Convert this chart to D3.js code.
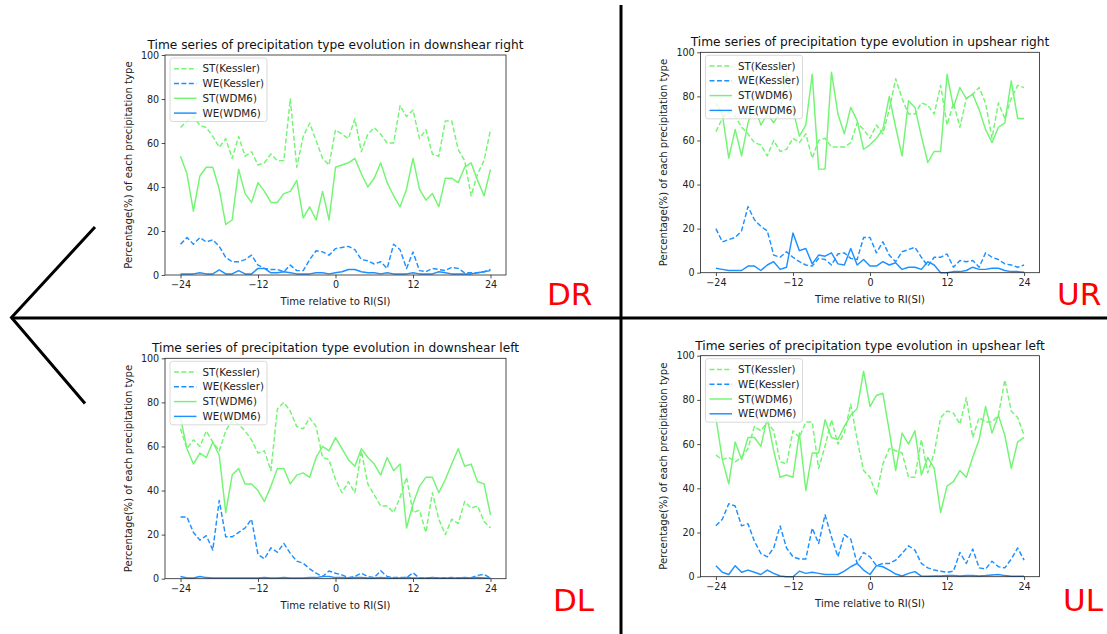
<!DOCTYPE html>
<html><head><meta charset="utf-8">
<script src="https://cdn.jsdelivr.net/npm/d3@7"></script>
<style>
html,body{margin:0;padding:0;background:#fff;}
svg{display:block;}
text{font-family:"DejaVu Sans",sans-serif;}
</style></head>
<body>
<svg id="c" width="1107" height="634"></svg>
<script>
// ---------- data ----------
const hours = [-24,-23,-22,-21,-20,-19,-18,-17,-16,-15,-14,-13,-12,-11,-10,-9,-8,-7,-6,-5,-4,-3,-2,-1,0,
  1,2,3,4,5,6,7,8,9,10,11,12,13,14,15,16,17,18,19,20,21,22,23,24];
const xTicks = [-24,-12,0,12,24];
const yTicks = [0,20,40,60,80,100];
const seriesNames = ["ST(Kessler)","WE(Kessler)","ST(WDM6)","WE(WDM6)"];
const panelTitles = [
  "Time series of precipitation type evolution in downshear right",
  "Time series of precipitation type evolution in upshear right",
  "Time series of precipitation type evolution in downshear left",
  "Time series of precipitation type evolution in upshear left"];
const regionLabels = ["DR","UR","DL","UL"];
const xLabel = "Time relative to RI(SI)";
const yLabel = "Percentage(%) of each precipitation type";

// downshear right
const drSTKessler = [67,70,72,68,67,63,58,62,53,63,54,56,50,51,55,52,52,80,49,63,69,61,53,50,66,
  64,62,71,56,64,67,64,60,60,77,72,75,62,66,55,54,70,70,57,52,36,46,52,66];
const drWEKessler = [14,17,14,17,15,16,13,8,6,6,7,9,4.5,3,2.5,2.5,1.5,4.5,2,2,7,11,10.5,9,12,
  12.5,13,11.5,7,6.5,5,6,3,14,11.5,3,10.5,2,1.5,3,2.5,2,3.5,3,1,1,1,1.5,2.5];
const drSTWDM6 = [54,46,29,45,49,49,39,23,25,48,37,33,42,38,33,33,37,38,43,26,31,25,38,25,49,
  50,51,53,46,40,44,51,42,36,31,39,53,39,34,37,31,44,44,42,49,51,43,36,48];
const drWEWDM6 = [0.5,0.5,0.5,1,0.5,0.5,2.3,0.5,0.5,2,0.5,0.5,3,3,1,1,1.5,1,0.5,0.5,0.5,1,1,0.5,1,
  1.5,2.5,2.5,1.5,1,1,0.5,1,0.5,0.5,0.5,1,0.5,0.5,0.5,1.5,1,0.5,0.5,0.5,0.5,1,1.5,2];

// upshear right
const urSTKessler = [64,70,73,71,66,63,59,58,53,60,55,56,61,59,63,52,60,61,57,57,57,59,68,65,61,
  67,63,74,88,79,72,72,77,76,72,85,67,77,66,79,81,84,77,61,77,70,79,85,84];
const urWEKessler = [20,14,15,16,19,30,24,21,19,8,7,9.5,7,5,3.5,3,6.5,6,3.5,8.5,9,6.5,6,16,16,
  9,14,8,5,9.5,10.5,11.5,7,3,7,7,8.5,2.5,5.5,5,5.5,2.5,9,7,6,4,3.5,2.5,3.5];
const urSTWDM6 = [77,72,52,65,53,68,76,67,72,68,73,91,74,62,67,90,47,47,91,72,63,75,69,56,58,
  61,65,80,66,53,78,75,62,50,55,55,90,75,84,79,81,74,65,59,66,68,87,70,70];
const urWEWDM6 = [2,1.5,1,1,1,3,3,1,3.5,5,1.5,2.5,18,10,11,4,8,7.5,9,4,3.5,11,3.5,6,3,
  3,5,3.5,4.5,1.5,2.5,2.5,1.5,5,3.5,0,0,0.5,0.5,1,2.5,1.5,1.5,2,2,1,0.5,0.5,0.2];

// downshear left
const dlSTKessler = [68,59,63,60,67,62,58,67,72,70,67,63,57,58,49,77,80,76,69,68,73,69,55,54,45,
  39,44,39,58,43,38,33,33,30,37,46,30,31,21,39,27,20,27,25,35,32,33,26,23];
const dlWEKessler = [28,28,21,17.5,19.5,13,35.5,19,19,21,23,27,11,9,14,12,16,11.5,8,7,4.5,2.5,1,3.5,2.5,
  1.7,0.5,1,2.5,1,0.5,3.6,1,0.5,0.5,0.5,2.7,0.2,0.2,0.3,0.3,0.3,0.5,0.3,0.3,0.5,1.5,2,0.3];
const dlSTWDM6 = [73,59,52,57,55,62,56,30,47,50,43,43,40,35,42,50,50,43,47,48,46,55,60,58,64,
  59,54,51,59,55,52,47,55,49,52,23,34,42,46,46,39,45,52,59,51,52,44,43,29];
const dlWEWDM6 = [1,0.3,0.3,1,0.5,0.3,0.3,0.3,0.3,0.3,0.3,0.3,0.3,0.5,0.3,0.3,0.5,0.3,0.3,0.3,0.5,0.5,1,1,0.5,
  0.5,0.3,0.5,0.5,0.3,0.3,0.5,0.3,0.3,0.3,0.5,0.3,0.3,0.3,0.5,0.3,0.3,0.3,0.3,0.5,0.3,0.5,0.3,0.3];

// upshear left
const ulSTKessler = [55,53,54,52,54,58,68,66,70,66,52,51,66,63,70,70,49,59,71,60,65,78,62,48,45,
  37,51,58,57,56,45,45,62,47,56,72,75,74,69,81,63,72,70,70,73,89,75,72,64];
const ulWEKessler = [23,26,33,32,23,24,16,10.5,9,13,23,13,9,8,8,22,15,28,18,9,19,17,6,11,9,
  5,6,6,7.5,10.5,14,12,6,4,3,2.5,2,2.5,11,6,12.5,4,3.5,7,4.5,4,8,13,7.5];
const ulSTWDM6 = [72,53,42,61,53,63,63,59,72,57,45,46,45,65,39,56,56,71,63,62,68,73,76,93,77,
  82,83,66,48,65,60,66,46,54,49,29,41,43,48,45,54,62,77,65,73,64,49,61,63];
const ulWEWDM6 = [5,2,1,5,2,3,2,1,3,1.5,0.3,0,0,2.5,1.5,2,1.5,1,1,1,2.5,4.5,6,3,1,
  5,4.5,3,1.2,0.3,1.5,2.3,0.3,0.2,0.3,0.3,0.5,0.5,0.3,0.5,0.5,0.3,0.5,0.8,1,0.5,0.2,0.2,0.2];

// ---------- layout / style ----------
const panelData = [
  [drSTKessler, drWEKessler, drSTWDM6, drWEWDM6],
  [urSTKessler, urWEKessler, urSTWDM6, urWEWDM6],
  [dlSTKessler, dlWEKessler, dlSTWDM6, dlWEWDM6],
  [ulSTKessler, ulWEKessler, ulSTWDM6, ulWEWDM6]];
const boxes = [
  {x0:165, x1:506, y0:55, y1:275, tY:48.5, lab:[547,305]},
  {x0:700.5, x1:1039.5, y0:52.3, y1:272.7, tY:46, lab:[1057,305]},
  {x0:165, x1:506, y0:358.3, y1:578.7, tY:352, lab:[553,611]},
  {x0:700.5, x1:1039.5, y0:355.7, y1:576.7, tY:349.5, lab:[1063,611]}];
const GREEN = "#72f572", BLUE = "#1e90ff";
const styles = [
  {color:GREEN, dash:"5,2.4"},
  {color:BLUE, dash:"5,2.4"},
  {color:GREEN, dash:null},
  {color:BLUE, dash:null}];

const svg = d3.select("#c");

panelData.forEach((series, pi) => {
  const b = boxes[pi];
  const x = d3.scaleLinear().domain([-26.4, 26.4]).range([b.x0, b.x1]);
  const y = d3.scaleLinear().domain([0, 100]).range([b.y1, b.y0]);
  const g = svg.append("g");

  // lines
  const line = d3.line().x((d,i)=>x(hours[i])).y(d=>y(d));
  series.forEach((vals, si) => {
    g.append("path").datum(vals)
      .attr("d", line)
      .attr("fill","none")
      .attr("stroke", styles[si].color)
      .attr("stroke-width", 1.45)
      .attr("stroke-linejoin","round")
      .attr("stroke-dasharray", styles[si].dash);
  });

  // axes
  const xAxis = d3.axisBottom(x).tickValues(xTicks).tickSize(3.3).tickPadding(2.5).tickFormat(d3.format("d"));
  const yAxis = d3.axisLeft(y).tickValues(yTicks).tickSize(3.3).tickPadding(2.5).tickFormat(d3.format("d"));
  const gx = g.append("g").attr("transform",`translate(0,${b.y1})`).call(xAxis);
  const gy = g.append("g").attr("transform",`translate(${b.x0},0)`).call(yAxis);
  [gx, gy].forEach(a => {
    a.select(".domain").remove();
    a.selectAll("line").attr("stroke","#222").attr("stroke-width",0.8);
    a.selectAll("text").attr("font-family","DejaVu Sans").attr("font-size",9.6).attr("fill","#222");
  });
  gx.selectAll("text").attr("dy","0.75em");

  // frame
  g.append("rect").attr("x",b.x0).attr("y",b.y0)
    .attr("width",b.x1-b.x0).attr("height",b.y1-b.y0)
    .attr("fill","none").attr("stroke","#222").attr("stroke-width",0.8);

  // title
  g.append("text").attr("x",(b.x0+b.x1)/2).attr("y",b.tY)
    .attr("text-anchor","middle").attr("font-size",12.2).attr("fill","#111")
    .text(panelTitles[pi]);
  // x label
  g.append("text").attr("x",(b.x0+b.x1)/2).attr("y",b.y1+30)
    .attr("text-anchor","middle").attr("font-size",10.1).attr("fill","#222")
    .text(xLabel);
  // y label
  g.append("text")
    .attr("transform",`translate(${b.x0-33.5},${(b.y0+b.y1)/2}) rotate(-90)`)
    .attr("text-anchor","middle").attr("font-size",10.1).attr("fill","#222")
    .text(yLabel);

  // legend
  const lg = g.append("g").attr("transform",`translate(${b.x0+5},${b.y0+3})`);
  lg.append("rect").attr("width",97).attr("height",63.5).attr("rx",2.5)
    .attr("fill","#fff").attr("fill-opacity",0.8).attr("stroke","#d0d0d0").attr("stroke-width",0.8);
  seriesNames.forEach((nm, si) => {
    const ry = 10.7 + si*14.8;
    lg.append("line").attr("x1",4).attr("x2",26.5).attr("y1",ry).attr("y2",ry)
      .attr("stroke",styles[si].color).attr("stroke-width",1.45)
      .attr("stroke-dasharray",styles[si].dash);
    lg.append("text").attr("x",32.5).attr("y",ry+3.6)
      .attr("font-size",10.3).attr("fill","#222").text(nm);
  });

  // region label
  svg.append("text").attr("x",b.lab[0]).attr("y",b.lab[1])
    .attr("font-family","Liberation Sans, Arial, sans-serif")
    .attr("font-size",31).attr("fill","#ff0000").text(regionLabels[pi]);
});

// dividing cross and arrow
const ov = svg.append("g").attr("stroke","#000").attr("stroke-width",3).attr("fill","none");
ov.append("line").attr("x1",621).attr("x2",621).attr("y1",5).attr("y2",634);
ov.append("line").attr("x1",11).attr("x2",1107).attr("y1",318).attr("y2",318);
ov.append("polyline").attr("points","95,227 11.5,317.5 85,403.5").attr("stroke-linejoin","miter");
</script>
</body></html>
